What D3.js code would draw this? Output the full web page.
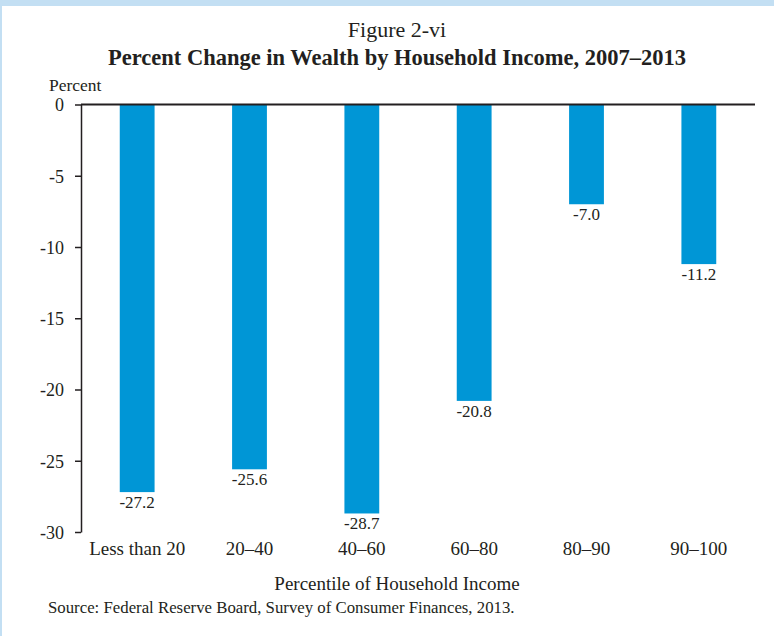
<!DOCTYPE html>
<meta charset="utf-8">
<style>
html, body { margin: 0; padding: 0; background: #fff; }
svg { display: block; }
text { font-family: "Liberation Serif", "Times New Roman", serif; fill: #231f20; }
</style>
<body>
<script src="https://d3js.org/d3.v7.min.js"></script>
<script>

var categories = ["Less than 20", "20\u201340", "40\u201360", "60\u201380", "80\u201390", "90\u2013100"];
var values = [-27.2, -25.6, -28.7, -20.8, -7.0, -11.2];
var yTicks = [0, -5, -10, -15, -20, -25, -30];

var width = 774,
    height = 636;

var svg = d3.select("body").append("svg")
    .attr("width", width)
    .attr("height", height);

// light blue frame on top and left
svg.append("rect").attr("x", 0).attr("y", 0).attr("width", width).attr("height", 6).attr("fill", "#c3dff3");
svg.append("rect").attr("x", 0).attr("y", 0).attr("width", 2).attr("height", height).attr("fill", "#c3dff3");

var x = d3.scaleBand()
    .domain(categories)
    .range([81, 755])
    .paddingInner(0.69)
    .paddingOuter(0.345);

var y = d3.scaleLinear()
    .domain([-30, 0])
    .range([532, 104.5]);

svg.append("text")
    .attr("x", 397).attr("y", 37)
    .attr("text-anchor", "middle")
    .style("font-size", "22px")
    .text("Figure 2-vi");

svg.append("text")
    .attr("x", 397).attr("y", 65)
    .attr("text-anchor", "middle")
    .style("font-size", "22.5px")
    .style("font-weight", "bold")
    .text("Percent Change in Wealth by Household Income, 2007\u20132013");

svg.append("text")
    .attr("x", 49).attr("y", 91)
    .style("font-size", "17.5px")
    .text("Percent");

// bars
svg.append("g").selectAll("rect")
    .data(values)
    .enter().append("rect")
    .attr("x", function(d, i) { return x(categories[i]); })
    .attr("y", y(0))
    .attr("width", x.bandwidth())
    .attr("height", function(d) { return y(d) - y(0); })
    .attr("fill", "#0096d6");

// value labels
svg.append("g").selectAll("text")
    .data(values)
    .enter().append("text")
    .attr("x", function(d, i) { return x(categories[i]) + x.bandwidth() / 2; })
    .attr("y", function(d) { return y(d) + 16; })
    .attr("text-anchor", "middle")
    .style("font-size", "17px")
    .text(function(d) { return d.toFixed(1); });

// y axis
var yAxis = svg.append("g")
    .attr("transform", "translate(81,0)")
    .call(d3.axisLeft(y).tickValues(yTicks).tickSize(6).tickSizeOuter(0).tickPadding(11)
      .tickFormat(function(d) { return d; }));
yAxis.select(".domain").attr("stroke", "#231f20").attr("stroke-width", 1.5);
yAxis.selectAll(".tick line").attr("stroke", "#231f20").attr("stroke-width", 1.5);
yAxis.selectAll(".tick text")
    .attr("dy", "0.36em")
    .style("font-family", "Liberation Serif, serif")
    .style("font-size", "18px")
    .attr("fill", "#231f20");

// zero line
svg.append("line")
    .attr("x1", 81).attr("x2", 755)
    .attr("y1", y(0)).attr("y2", y(0))
    .attr("stroke", "#231f20")
    .attr("stroke-width", 2);

// category labels
var xAxis = svg.append("g")
    .attr("transform", "translate(0,532)")
    .call(d3.axisBottom(x).tickSize(0));
xAxis.select(".domain").remove();
xAxis.selectAll(".tick text")
    .attr("y", 23)
    .attr("dy", null)
    .style("font-family", "Liberation Serif, serif")
    .style("font-size", "19px")
    .attr("fill", "#231f20");

svg.append("text")
    .attr("x", 397).attr("y", 590)
    .attr("text-anchor", "middle")
    .style("font-size", "19px")
    .text("Percentile of Household Income");

svg.append("text")
    .attr("x", 48).attr("y", 613)
    .style("font-size", "16.8px")
    .text("Source: Federal Reserve Board, Survey of Consumer Finances, 2013.");

</script>
</body>
